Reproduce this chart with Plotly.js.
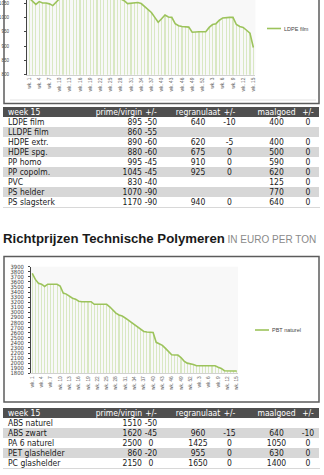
<!DOCTYPE html>
<html><head><meta charset="utf-8">
<script src="https://cdn.plot.ly/plotly-3.0.1.min.js"></script>
<style>html,body{margin:0;padding:0;background:#fff;overflow:hidden}#c{width:324px;height:475px}</style>
</head><body><div id="c"></div>
<script>
// ---------- DATA ----------
const weeks = ['wk. 1','wk. 2','wk. 3','wk. 4','wk. 5','wk. 6','wk. 7','wk. 8','wk. 9','wk. 10',
 'wk. 11','wk. 12','wk. 13','wk. 14','wk. 15','wk. 16','wk. 17','wk. 18','wk. 19','wk. 20',
 'wk. 21','wk. 22','wk. 23','wk. 24','wk. 25','wk. 26','wk. 27','wk. 28','wk. 29','wk. 30',
 'wk. 31','wk. 32','wk. 33','wk. 34','wk. 35','wk. 36','wk. 37','wk. 38','wk. 39','wk. 40',
 'wk. 41','wk. 42','wk. 43','wk. 44','wk. 45','wk. 46','wk. 47','wk. 48','wk. 49','wk. 50',
 'wk. 51','wk. 52','wk. 1','wk. 2','wk. 3','wk. 4','wk. 5','wk. 6','wk. 7','wk. 8',
 'wk. 9','wk. 10','wk. 11','wk. 12','wk. 13','wk. 14','wk. 15'];

const ldpeName = 'LDPE film';
const ldpeFilm = [1068,1058,1045,1055,1050,1050,1047,1041,1053,1068,
 1080,1090,1095,1100,1100,1100,1095,1095,1090,1090,
 1085,1085,1080,1080,1075,1075,1070,1065,1058,1048,
 1050,1052,1052,1048,1038,1028,1017,1000,983,995,
 1008,1001,1000,978,971,968,966,966,948,950,
 950,950,950,965,975,978,990,998,1000,1000,
 1000,975,968,965,955,945,895];

const pbtName = 'PBT naturel';
const pbtNaturel = [3770,3650,3575,3555,3510,3555,3555,3555,3555,3520,
 3380,3360,3320,3280,3260,3220,3210,3210,3210,3210,
 3160,3160,3160,3160,3160,3110,3040,2985,2950,2930,
 2890,2845,2800,2750,2705,2660,2625,2615,2605,2605,
 2410,2380,2350,2290,2230,2165,2160,2160,2110,2040,
 2000,1990,1975,1950,1950,1950,1950,1950,1950,1950,
 1920,1895,1850,1845,1845,1845,1845];

const tableHeaders = ['week 15','prime/virgin','+/-','regranulaat','+/-','maalgoed','+/-'];

const t1Product = ['LDPE film','LLDPE film','HDPE extr.','HDPE spg.','PP homo','PP copolm.','PVC','PS helder','PS slagsterk'];
const t1Prime    = ['895','860','890','880','995','1045','830','1070','1170'];
const t1PrimeChg = ['-50','-55','-60','-60','-45','-45','-40','-90','-90'];
const t1Regr     = ['640','','620','675','910','925','','','940'];
const t1RegrChg  = ['-10','','-5','0','0','0','','','0'];
const t1Maal     = ['400','','400','500','590','620','125','770','640'];
const t1MaalChg  = ['0','','0','0','0','0','0','0','0'];

const t2Product = ['ABS naturel','ABS zwart','PA 6 naturel','PET glashelder','PC glashelder'];
const t2Prime    = ['1510','1620','2500','860','2150'];
const t2PrimeChg = ['-50','-45','0','-20','0'];
const t2Regr     = ['','960','1425','955','1650'];
const t2RegrChg  = ['','-15','0','0','0'];
const t2Maal     = ['','640','1050','630','1400'];
const t2MaalChg  = ['','-10','0','0','0'];

const titleMain = 'Richtprijzen Technische Polymeren';
const titleSub = 'IN EURO PER TON';

// ---------- LAYOUT HELPERS ----------
const W = 324, H = 475;
const px = v => v / W;
const py = v => 1 - v / H;
const idx = weeks.map((_, i) => i);
const tickIdx = idx.filter(i => i % 3 === 0);
const tickTxt = tickIdx.map(i => weeks[i]);

const LINE = '#9cc35b', DROP = '#d9e8c3';
const TFONT = "'DejaVu Sans Condensed','Liberation Sans',sans-serif";

const traces = [];
traces.push({type:'bar', x: idx, y: ldpeFilm, width: 0.32, marker:{color: DROP}, xaxis:'x', yaxis:'y', hoverinfo:'skip', showlegend:false});
traces.push({type:'scatter', mode:'lines', x: idx, y: ldpeFilm, name: ldpeName, line:{color: LINE, width: 1.6}, xaxis:'x', yaxis:'y', showlegend:false});
traces.push({type:'bar', x: idx, y: pbtNaturel, width: 0.34, marker:{color: DROP}, xaxis:'x2', yaxis:'y2', hoverinfo:'skip', showlegend:false});
traces.push({type:'scatter', mode:'lines', x: idx, y: pbtNaturel, name: pbtName, line:{color: LINE, width: 1.6}, xaxis:'x2', yaxis:'y2', showlegend:false});

// tables: one trace draws header band + row bands, one transparent trace per column draws the text
const NONE = 'rgba(0,0,0,0)';
const HDR_H = 10, ROW_H = 10, TXT_SHIFT = 6.5;
function addTable(top, cols) {
  const n = cols[0].length;
  const bottom = top + HDR_H + n * ROW_H;
  const bands = cols[0].map((_, i) => i % 2 ? '#d7d7d7' : '#ffffff');
  traces.push({type:'table', domain:{x:[px(3), px(320)], y:[py(bottom + 2), py(top)]}, columnwidth:[1],
    header:{values:[''], height: HDR_H, fill:{color:'#4f4f4f'}, line:{width:0, color:NONE}, font:{size:8, color:'#fff', family: TFONT}},
    cells:{values:[cols[0].map(() => '')], height: ROW_H, fill:{color:[bands]}, line:{width:0, color:NONE}, font:{size:8, family: TFONT}}});
  const spec = [ // [x0, x1, align]
    [0, 100, 'left'], [80, 150, 'right'], [141, 161, 'center'], [170, 226, 'center'],
    [220, 240, 'center'], [250, 304, 'center'], [298, 318, 'center']];
  const dy = [py(bottom - TXT_SHIFT + 14), py(top - TXT_SHIFT)];
  spec.forEach((s, k) => {
    traces.push({type:'table', domain:{x:[px(s[0]), px(s[1])], y: dy}, columnwidth:[1],
      header:{values:[tableHeaders[k]], align: s[2], height: HDR_H, fill:{color: NONE},
        line:{width:0, color:NONE}, font:{size:8.5, color:'#ffffff', family: TFONT}},
      cells:{values:[cols[k]], align: s[2], height: ROW_H, fill:{color: NONE},
        line:{width:0, color:NONE}, font:{size:8.5, color:'#1a1a1a', family: TFONT}}});
  });
}
addTable(107, [t1Product, t1Prime, t1PrimeChg, t1Regr, t1RegrChg, t1Maal, t1MaalChg]);
addTable(408, [t2Product, t2Prime, t2PrimeChg, t2Regr, t2RegrChg, t2Maal, t2MaalChg]);

const yTick = {showgrid:false, zeroline:false, showline:true, linecolor:'#444', linewidth:1, ticks:'outside', ticklen:2, tickcolor:'#444'};
const xTick = {showgrid:false, zeroline:false, showline:true, linecolor:'#d0d0d0', linewidth:1, ticks:'', tickangle:-90,
  tickmode:'array', tickvals: tickIdx, ticktext: tickTxt, tickfont:{size:4.8, color:'#666', family:"'Liberation Sans',sans-serif"}};

const layout = {
  width: W, height: H, autosize:false, margin:{l:0,r:0,t:0,b:0},
  paper_bgcolor:'#fff', plot_bgcolor:'#f8f8f8', bargap:0, showlegend:false,
  xaxis: Object.assign({}, xTick, {domain:[px(27), px(255.4)], range:[-0.6, 66.6], anchor:'y'}),
  yaxis: Object.assign({}, yTick, {domain:[py(74.7), 1], range:[800, 1060.5], dtick:50, tick0:800, anchor:'x', ticklabelstandoff: 14,
    tickfont:{size:4.6, color:'#444', family:"'Liberation Sans',sans-serif"}}),
  xaxis2: Object.assign({}, xTick, {domain:[px(31), px(238)], range:[-0.4, 66.4], anchor:'y2'}),
  yaxis2: Object.assign({}, yTick, {domain:[py(373.3), py(266.7)], range:[1800, 3900], dtick:100, tick0:1800, anchor:'x2', ticklabelstandoff: 3,
    tickfont:{size:5.8, color:'#444', family:"'DejaVu Sans Condensed','Liberation Sans',sans-serif"}}),
  shapes: [
    {type:'rect', xref:'paper', yref:'paper', x0:px(4), x1:px(319), y0:py(103.5), y1:py(-5), line:{color:'#5c5c5c', width:1.5}},
    {type:'line', xref:'paper', yref:'paper', x0:px(10), x1:px(316), y0:py(100), y1:py(100), line:{color:'#e2e2e2', width:1}},
    {type:'rect', xref:'paper', yref:'paper', x0:px(4), x1:px(319), y0:py(402), y1:py(256.5), line:{color:'#5c5c5c', width:1.5}},
    {type:'line', xref:'paper', yref:'paper', x0:px(267), x1:px(281), y0:py(28.5), y1:py(28.5), line:{color:LINE, width:1.6}},
    {type:'line', xref:'paper', yref:'paper', x0:px(255), x1:px(269), y0:py(330), y1:py(330), line:{color:LINE, width:1.6}},
    {type:'line', xref:'paper', yref:'paper', x0:px(3), x1:px(320), y0:py(207.5), y1:py(207.5), line:{color:'#d8d8d8', width:1}},
    {type:'line', xref:'paper', yref:'paper', x0:px(3), x1:px(320), y0:py(468.5), y1:py(468.5), line:{color:'#d8d8d8', width:1}}
  ],
  annotations: [
    {xref:'paper', yref:'paper', x:px(282), y:py(28.5), xanchor:'left', yanchor:'middle', showarrow:false, text: ldpeName,
      font:{size:5.5, color:'#444', family:"'Liberation Sans',sans-serif"}},
    {xref:'paper', yref:'paper', x:px(270), y:py(330), xanchor:'left', yanchor:'middle', showarrow:false, text: pbtName,
      font:{size:5.5, color:'#444', family:"'Liberation Sans',sans-serif"}},
    {xref:'paper', yref:'paper', x:px(1), y:py(238.5), xanchor:'left', yanchor:'middle', showarrow:false,
      text:'<b>' + titleMain + '</b><span style="font-size:10px;color:#8a8a8a"> ' + titleSub + '</span>',
      font:{size:13.2, color:'#1a1a1a', family:"'Liberation Sans',sans-serif"}}
  ]
};

Plotly.newPlot('c', traces, layout, {staticPlot:true, displayModeBar:false});
</script></body></html>
